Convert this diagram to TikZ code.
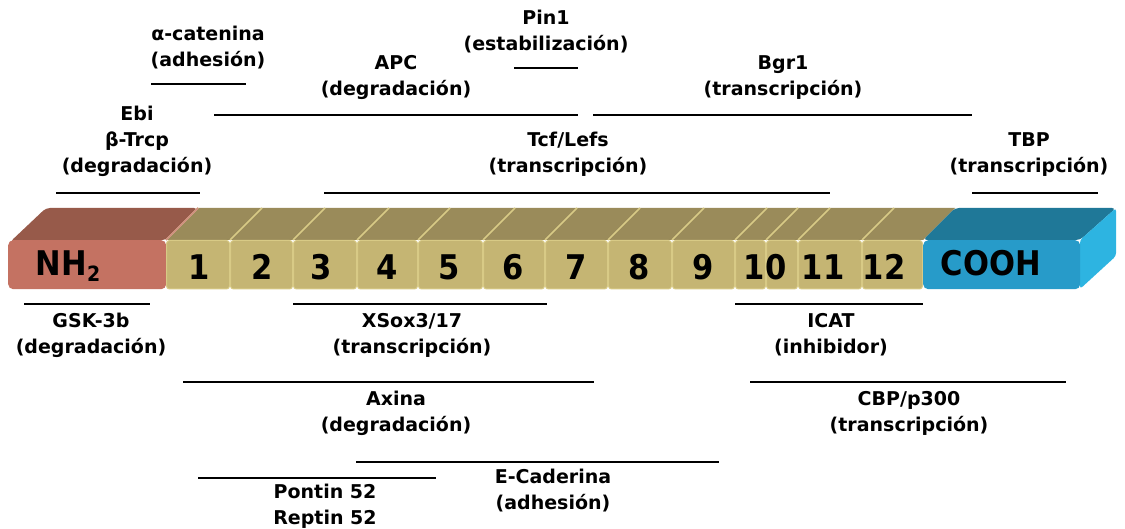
\documentclass[tikz,border=0pt]{standalone}
\usepackage{fontspec}
\setmainfont{DejaVu Sans}
\newfontfamily\numfam{DejaVu Sans}[FakeStretch=0.9]
\newcommand{\lblfont}{\fontsize{19}{26}\selectfont\bfseries}
\newcommand{\numfont}{\numfam\fontsize{34}{34}\selectfont\bfseries}
\definecolor{nhfront}{RGB}{196,114,98}
\definecolor{nhtop}{RGB}{151,90,74}
\definecolor{segfront}{RGB}{197,181,115}
\definecolor{segtop}{RGB}{154,139,90}
\definecolor{seghi}{RGB}{216,202,134}
\definecolor{cofront}{RGB}{39,155,201}
\definecolor{cotop}{RGB}{31,120,152}
\definecolor{coside}{RGB}{45,180,225}
\tikzset{
  lbl/.style={font=\lblfont, align=center, inner sep=0pt},
  num/.style={font=\numfont, inner sep=0pt, anchor=base},
  rangebar/.style={line width=1.5pt, draw=black},
  segface/.style={fill=segfront, draw=seghi, line width=1pt, rounded corners=3pt},
  stripe/.style={draw=seghi, line width=1.6pt}
}
\begin{document}
\begin{tikzpicture}[x=1pt,y=-1pt]
\useasboundingbox (0,0) rectangle (1125,529);
% ---------- bar: top faces ----------
\fill[nhtop, rounded corners=4pt] (10,242) -- (46,208) -- (198,208) -- (166,240) -- cycle;
\fill[segtop] (166,240) -- (198,208) -- (955,208) -- (923,240) -- cycle;
\foreach \x in {166,230,293,357,418,483,545,608,672,735,766,798,862}
  \draw[stripe] (\x,240) -- (\x+32,208);
\draw[draw=nhfront!80!white, line width=1.6pt] (166,240) -- (198,208);
\fill[cotop, rounded corners=4pt] (923,240) -- (955,208) -- (1116,208) -- (1080,240) -- cycle;
\fill[coside, rounded corners=3pt] (1080,240) -- (1116,208) -- (1116,256) -- (1080,289) -- cycle;
% ---------- bar: front faces ----------
\node[fill=nhfront, rounded corners=5pt, minimum width=158pt, minimum height=49pt, inner sep=0pt, anchor=north west] (nh) at (8,240) {};
\foreach \a/\b/\n in {166/230/s1,230/293/s2,293/357/s3,357/418/s4,418/483/s5,483/545/s6,545/608/s7,608/672/s8,672/735/s9,735/766/s10a,766/798/s10b,798/862/s11,862/923/s12}
  \draw[segface] (\a+0.5,240.5) rectangle (\b-0.5,289);
\node[fill=cofront, rounded corners=5pt, minimum width=157pt, minimum height=49pt, inner sep=0pt, anchor=north west] (cooh) at (923,240) {};
% ---------- bar labels ----------
\node[num] (tnh) at (68,276) {NH\raisebox{-0.32ex}{\fontsize{21}{21}\selectfont 2}};
\node[num] (tcooh) at (991,276) {COOH};
\foreach \x/\t in {199/1,262/2,321/3,387/4,449/5,513/6,576/7,639/8,703/9,765/10,823/11,884/12}
  \node[num] (n\t) at (\x,280) {\t};
% ---------- interaction ranges: above ----------
\draw[rangebar] (514,68) -- (578,68);
\node[lbl, anchor=south] (pin) at (546,53) {Pin1\\(estabilización)};
\draw[rangebar] (151,84) -- (246,84);
\node[lbl, anchor=south] (acat) at (208,69) {α-catenina\\(adhesión)};
\draw[rangebar] (214,115) -- (578,115);
\node[lbl, anchor=south] (apc) at (396,100) {APC\\(degradación)};
\draw[rangebar] (593,115) -- (972,115);
\node[lbl, anchor=south] (bgr) at (783,100) {Bgr1\\(transcripción)};
\draw[rangebar] (56,193) -- (200,193);
\node[lbl, anchor=south] (ebi) at (137,177) {Ebi\\β-Trcp\\(degradación)};
\draw[rangebar] (324,193) -- (830,193);
\node[lbl, anchor=south] (tcf) at (568,177) {Tcf/Lefs\\(transcripción)};
\draw[rangebar] (972,193) -- (1098,193);
\node[lbl, anchor=south] (tbp) at (1029,177) {TBP\\(transcripción)};
% ---------- interaction ranges: below ----------
\draw[rangebar] (24,304) -- (150,304);
\node[lbl, anchor=north] (gsk) at (91,313) {GSK-3b\\(degradación)};
\draw[rangebar] (293,304) -- (547,304);
\node[lbl, anchor=north] (xsox) at (412,313) {XSox3/17\\(transcripción)};
\draw[rangebar] (735,304) -- (923,304);
\node[lbl, anchor=north] (icat) at (831,313) {ICAT\\(inhibidor)};
\draw[rangebar] (183,382) -- (594,382);
\node[lbl, anchor=north] (axina) at (396,391) {Axina\\(degradación)};
\draw[rangebar] (750,382) -- (1066,382);
\node[lbl, anchor=north] (cbp) at (909,391) {CBP/p300\\(transcripción)};
\draw[rangebar] (356,462) -- (719,462);
\node[lbl, anchor=north] (ecad) at (553,469) {E-Caderina\\(adhesión)};
\draw[rangebar] (198,478) -- (436,478);
\node[lbl, anchor=north] (pontin) at (325,484) {Pontin 52\\Reptin 52};
\end{tikzpicture}
\end{document}
